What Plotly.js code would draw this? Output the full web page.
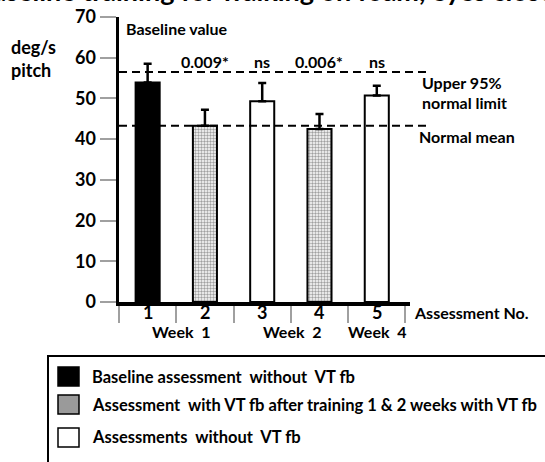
<!DOCTYPE html>
<html>
<head>
<meta charset="utf-8">
<script src="https://cdn.plot.ly/plotly-3.0.1.min.js"></script>
<style>html,body{margin:0;padding:0;background:#fff;}#chart{width:545px;height:462px;}</style>
</head>
<body>
<div id="chart"></div>
<script>
// ---- data ----
const categories = ['1', '2', '3', '4', '5'];
const groups = ['baseline', 'vt', 'none', 'vt', 'none'];
const meanValues = [53.9, 43.3, 49.3, 42.5, 50.7];
const errorPlus = [4.6, 3.9, 4.5, 3.7, 2.4];
const sigLabels = ['', '0.009*', 'ns', '0.006*', 'ns'];
const weekLabels = ['Week\u00a0\u00a01', 'Week\u00a0\u00a02', 'Week\u00a0\u00a04'];
const weekPositions = [0.59, 2.53, 4.01];
const upperLimit = 56.5;
const normalMean = 43.3;
const legendLabels = [
  'Baseline assessment\u00a0\u00a0without\u00a0\u00a0VT fb',
  'Assessment\u00a0\u00a0with VT fb after training 1 & 2 weeks with VT fb',
  'Assessments\u00a0\u00a0without\u00a0\u00a0VT fb'
];
const titleText = 'Baseline training for walking on foam, eyes closed';

// ---- styling ----
const FONT = 'Lato, "Open Sans", sans-serif';
const fillFor = {baseline: '#000000', vt: '#a0a0a0', none: '#ffffff'};
const patFor = {baseline: '', vt: '.', none: ''};

// plot area in pixels
const L = 119, R = 410, T = 17, B = 302;
const W = R - L, H = B - T;
const px = x => (x - L) / W;
const py = y => (B - y) / H;

const xIdx = categories.map((c, i) => i);

const trace = {
  type: 'bar',
  x: xIdx,
  y: meanValues,
  width: 0.42,
  marker: {
    color: groups.map(g => fillFor[g]),
    line: {color: '#000', width: 2},
    pattern: {shape: groups.map(g => patFor[g]), fgcolor: '#4a4a4a', bgcolor: '#b4b4b4', size: 3, solidity: 0.5}
  },
  error_y: {type: 'data', symmetric: false, array: errorPlus, arrayminus: meanValues.map(() => 0),
            color: '#000', thickness: 2.5, width: 4},
  hoverinfo: 'skip',
  showlegend: false
};

const ann = [];
const bold = (size) => ({family: FONT, size: size, color: '#000', weight: 700});
function addText(text, x, y, size, xanchor, xref, yref) {
  ann.push({text: text, x: x, y: y, xref: xref || 'paper', yref: yref || 'paper',
            xanchor: xanchor || 'center', yanchor: 'middle', showarrow: false, font: bold(size), borderpad: 0});
}

addText(titleText, px(272), py(-9), 27, 'center');
addText('deg/s', px(10), py(47), 18, 'left');
addText('pitch', px(10), py(70), 18, 'left');
addText('Baseline value', px(125), py(28), 16, 'left');
sigLabels.forEach((s, i) => { if (s) addText(s, xIdx[i], 59.1, 16, 'center', 'x', 'y'); });
addText('Upper 95%', px(421), py(82), 16, 'left');
addText('normal limit', px(421), py(102), 16, 'left');
addText('Normal mean', px(418), py(136), 16, 'left');
categories.forEach((c, i) => addText(c, xIdx[i], py(312), 18, 'center', 'x', 'paper'));
weekLabels.forEach((w, i) => addText(w, weekPositions[i], py(331), 16, 'center', 'x', 'paper'));
addText('Assessment No.', px(413), py(313), 16, 'left');
const legY = [377, 405, 437];
legendLabels.forEach((t, i) => addText(t, px(91), py(legY[i]), 16.5, 'left'));

const shapes = [
  {type: 'line', xref: 'paper', yref: 'y', x0: 0, x1: px(428), y0: upperLimit, y1: upperLimit,
   line: {color: '#000', width: 2, dash: '8px,5px'}},
  {type: 'line', xref: 'paper', yref: 'y', x0: 0, x1: px(428), y0: normalMean, y1: normalMean,
   line: {color: '#000', width: 2, dash: '8px,5px'}},
  // legend box
  {type: 'rect', xref: 'paper', yref: 'paper', x0: px(48), x1: px(570), y0: py(356), y1: py(480),
   line: {color: '#000', width: 2}, fillcolor: 'rgba(0,0,0,0)'}
];
const sqTop = [367, 395, 428];
const sqFill = [fillFor.baseline, '#9a9a9a', fillFor.none];
sqTop.forEach((t, i) => shapes.push({type: 'rect', xref: 'paper', yref: 'paper', x0: px(58), x1: px(79),
  y0: py(t), y1: py(t + 19), line: {color: '#000', width: 1.5}, fillcolor: sqFill[i]}));

const layout = {
  width: 545, height: 462,
  margin: {l: L, r: 545 - R, t: T, b: 462 - B, pad: 0},
  paper_bgcolor: '#fff', plot_bgcolor: '#fff',
  font: {family: FONT, color: '#000'},
  xaxis: {range: [-0.5, 4.58], tickvals: [-0.5, 0.5, 1.5, 2.5, 3.5, 4.5], showticklabels: false,
          ticks: 'outside', ticklen: 17, tickwidth: 2, tickcolor: '#a0a0a0',
          showline: true, linecolor: '#000', linewidth: 4, showgrid: false, zeroline: false, fixedrange: true},
  yaxis: {range: [0, 70], dtick: 10, tick0: 0, ticks: 'outside', ticklen: 16, tickwidth: 2, tickcolor: '#a0a0a0',
          tickfont: bold(18), showline: true, linecolor: '#000', linewidth: 3.5,
          showgrid: false, zeroline: false, fixedrange: true},
  annotations: ann,
  shapes: shapes,
  showlegend: false
};

Plotly.newPlot('chart', [trace], layout, {staticPlot: true, displayModeBar: false});
</script>
</body>
</html>
